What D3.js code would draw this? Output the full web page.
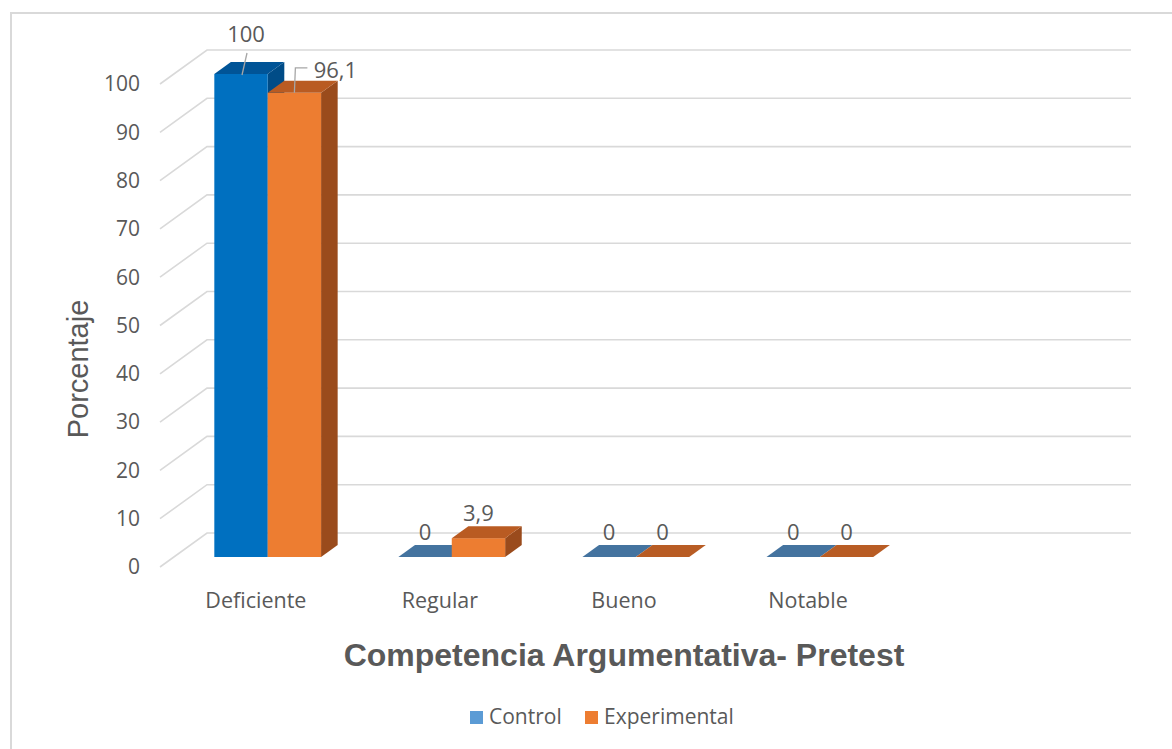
<!DOCTYPE html>
<html><head><meta charset="utf-8">
<script src="https://cdn.jsdelivr.net/npm/d3@7"></script>
<style>body{margin:0;background:#fff}svg{display:block}</style>
</head><body>
<svg id="c" width="1172" height="749"></svg>
<script>
const categories = ["Deficiente", "Regular", "Bueno", "Notable", ""];
const seriesNames = ["Control", "Experimental"];
const control = [100, 0, 0, 0];
const experimental = [96.1, 3.9, 0, 0];
const labelText = [["100", "0", "0", "0"], ["96,1", "3,9", "0", "0"]];
const yTicks = [0, 10, 20, 30, 40, 50, 60, 70, 80, 90, 100];
const chartTitle = "Competencia Argumentativa- Pretest";
const yTitle = "Porcentaje";

const svg = d3.select("#c");
const textColor = "#595959";
const font = "'Open Sans', sans-serif";

// frame
svg.append("path").attr("d", "M11,749 L11,13 L1172,13").attr("fill", "none")
  .attr("stroke", "#d9d9d9").attr("stroke-width", 2);

// 3D projection
const DX = 47, DY = 34;
const y = d3.scaleLinear().domain([0, 100]).range([533, 50]);
const x0 = d3.scaleBand().domain(categories).range([207, 1131]).paddingInner(0.42).paddingOuter(0.22);
const x1 = d3.scaleBand().domain(seriesNames).range([0, x0.bandwidth()]);
const P = (xb, v, z) => [xb - z * DX, y(v) + z * DY];
const zB = 12 / 34, zF = 24 / 34;

// gridlines
const g = svg.append("g");
yTicks.forEach(t => {
  const a = P(207, t, 1), b = P(207, t, 0), c = P(1131, t, 0);
  g.append("path").attr("d", `M${a}L${b}L${c}`).attr("fill", "none")
    .attr("stroke", "#d9d9d9").attr("stroke-width", 1.6);
  g.append("text").attr("x", 140).attr("y", a[1]).attr("dy", "0.35em")
    .attr("text-anchor", "end").attr("font-family", font).attr("font-size", 21)
    .attr("fill", textColor).text(t);
});

const colors = [
  {front: "#0070C0", top: "#005497", side: "#004C87", flat: "#44739F"},
  {front: "#ED7D31", top: "#B95B22", side: "#9A4B1C", flat: "#B85C24"}
];
const series = [control, experimental];
const bars = svg.append("g");
categories.slice(0, 4).forEach((cat, i) => {
  series.forEach((vals, s) => {
    const v = vals[i];
    const xl = x0(cat) + x1(seriesNames[s]);
    const xr = xl + x1.bandwidth();
    const col = colors[s];
    const poly = pts => "M" + pts.map(p => p.join(",")).join("L") + "Z";
    if (v > 0) {
      bars.append("path").attr("d", poly([P(xr, 0, zF), P(xr, 0, zB), P(xr, v, zB), P(xr, v, zF)])).attr("fill", col.side);
      const fl = P(xl, v, zF), fb = P(xl, 0, zF), fr = P(xr, 0, zF);
      bars.append("rect").attr("x", fl[0]).attr("y", fl[1]).attr("width", fr[0] - fl[0]).attr("height", fb[1] - fl[1]).attr("fill", col.front);
    }
    bars.append("path").attr("d", poly([P(xl, v, zF), P(xr, v, zF), P(xr, v, zB), P(xl, v, zB)]))
      .attr("fill", v > 0 ? col.top : col.flat);
  });
});

// data labels
const lbl = svg.append("g").attr("font-family", font).attr("font-size", 22).attr("fill", textColor);
categories.slice(0, 4).forEach((cat, i) => {
  series.forEach((vals, s) => {
    const v = vals[i];
    const xl = x0(cat) + x1(seriesNames[s]);
    const cx = P(xl + x1.bandwidth() / 2, v, zF);
    let tx = cx[0], ty = cx[1] - 25;
    if (v > 50) {
      if (s === 0) {
        tx = cx[0] + 5; ty = cx[1] - 40;
        lbl.append("path").attr("d", `M${cx[0] + 6},${cx[1] - 21}L${cx[0] + 1},${cx[1] + 1}`)
          .attr("stroke", "#a6a6a6").attr("stroke-width", 1.3).attr("fill", "none");
      } else {
        tx = cx[0] + 41; ty = cx[1] - 23;
        lbl.append("path").attr("d", `M${cx[0] + 13},${cx[1] - 25}L${cx[0] + 1},${cx[1] - 25}L${cx[0]},${cx[1]}`)
          .attr("stroke", "#a6a6a6").attr("stroke-width", 1.3).attr("fill", "none");
      }
    }
    lbl.append("text").attr("x", tx).attr("y", ty).attr("dy", "0.35em")
      .attr("text-anchor", "middle").text(labelText[s][i]);
  });
});

// category labels
categories.forEach(cat => {
  if (!cat) return;
  const p = P(x0(cat) + x0.bandwidth() / 2, 0, 1);
  svg.append("text").attr("x", p[0] + 2).attr("y", 600).attr("dy", "0.35em")
    .attr("text-anchor", "middle").attr("font-family", font).attr("font-size", 21.5)
    .attr("fill", textColor).text(cat);
});

// axis title
svg.append("text").attr("transform", "translate(78,369) rotate(-90)").attr("dy", "0.35em")
  .attr("text-anchor", "middle").attr("font-family", "'Liberation Sans', Arial, sans-serif")
  .attr("font-size", 29).attr("fill", textColor).text(yTitle);

// chart title
svg.append("text").attr("x", 624).attr("y", 655).attr("dy", "0.35em")
  .attr("text-anchor", "middle").attr("font-family", "'Liberation Sans', Arial, sans-serif")
  .attr("font-weight", "bold").attr("font-size", 32).attr("fill", textColor).text(chartTitle);

// legend
const legendColors = ["#5B9BD5", "#ED7D31"];
const legendX = [470, 585];
seriesNames.forEach((n, i) => {
  svg.append("rect").attr("x", legendX[i]).attr("y", 711).attr("width", 13).attr("height", 13).attr("fill", legendColors[i]);
  svg.append("text").attr("x", legendX[i] + 19).attr("y", 717).attr("dy", "0.35em")
    .attr("font-family", font).attr("font-size", 21).attr("fill", textColor).text(n);
});
</script>
</body></html>
